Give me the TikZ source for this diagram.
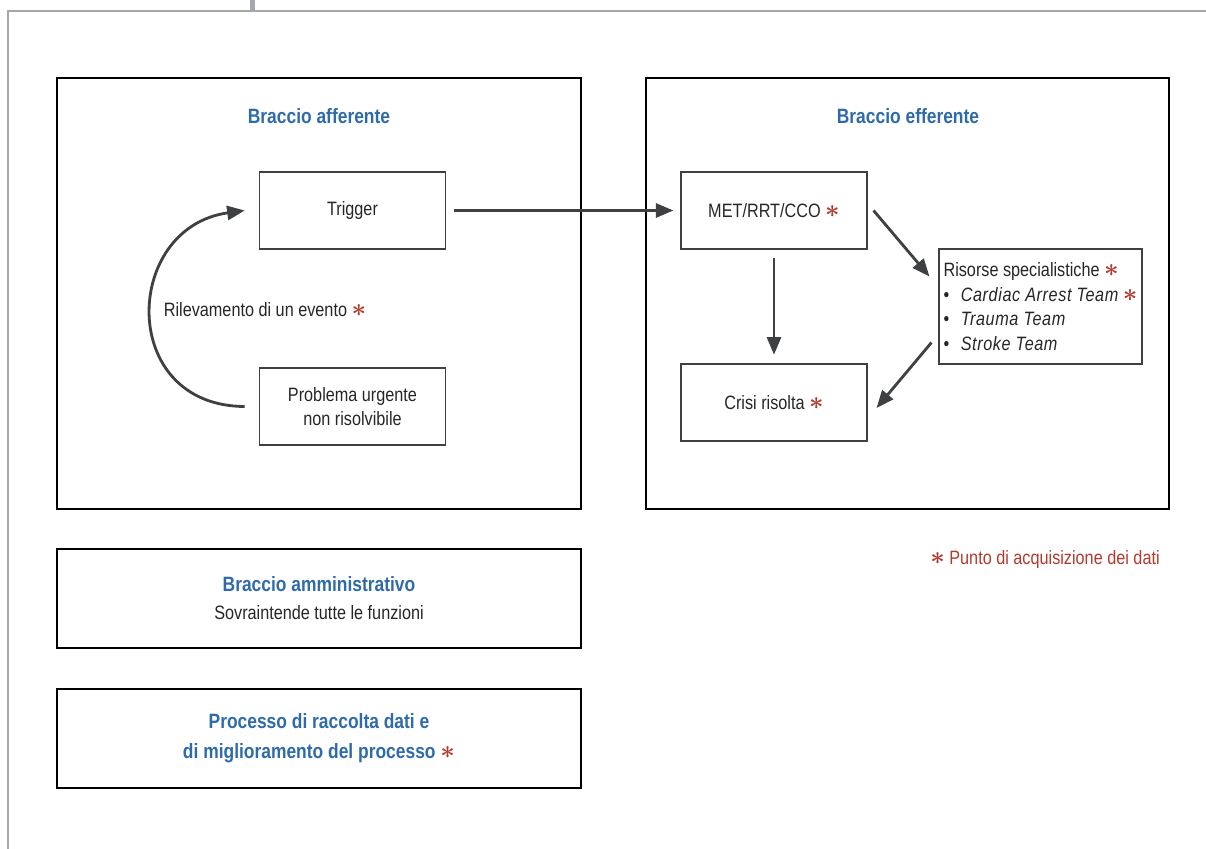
\documentclass[tikz,border=0pt]{standalone}
\usepackage{fontspec}
\setmainfont{Liberation Sans}[FakeStretch=0.84]
\usetikzlibrary{arrows.meta}
\definecolor{titleColor}{RGB}{47,107,170}
\definecolor{starColor}{RGB}{176,58,46}
\definecolor{frameColor}{RGB}{164,167,174}
\definecolor{arrowColor}{RGB}{62,64,68}
\tikzstyle{armBox} = [draw=black, line width=1.1pt, minimum width=10.48cm, inner sep=0pt]
\tikzstyle{stepBox} = [draw=black!75, line width=0.6pt, minimum width=3.73cm, minimum height=1.54cm, align=center, text=black!85, font=\fontsize{11}{14}\selectfont]
\tikzstyle{armTitle} = [font=\fontsize{11.8}{14}\selectfont\bfseries, text=titleColor]
\tikzstyle{flowArrow} = [draw=arrowColor, line width=1.6pt, -{Triangle[length=10pt,width=8pt]}]
\newcommand{\redStar}{\textcolor{starColor}{\fontsize{14}{14}\selectfont\boldmath$\ast$}}
\newcommand{\teamItem}[1]{\textbullet\hspace{0.6em}{\itshape\addfontfeature{LetterSpace=3}#1}}
\begin{document}
\begin{tikzpicture}
  \useasboundingbox (0,0) rectangle (24.12,-16.98);
  % cornice
  \draw[frameColor, line width=1.7pt] (0.16,-16.98) -- (0.16,-0.22) -- (24.12,-0.22);
  \draw[frameColor, line width=2.4pt] (5.05,0) -- (5.05,-0.22);

  % bracci
  \node[armBox, minimum height=8.62cm] (afferente) at (6.38,-5.87) {};
  \node[armTitle] (titoloAff) at (6.38,-2.32) {Braccio afferente};
  \node[armBox, minimum width=10.46cm, minimum height=8.62cm] (efferente) at (18.15,-5.87) {};
  \node[armTitle] (titoloEff) at (18.16,-2.32) {Braccio efferente};

  % braccio afferente
  \node[stepBox] (trigger) at (7.05,-4.21) {Trigger};
  \node[stepBox] (problema) at (7.05,-8.13) {Problema urgente\\non risolvibile};
  \node[text=black!85, font=\fontsize{11}{14}\selectfont] (rilevamento) at (5.30,-6.20) {Rilevamento di un evento \redStar};
  \draw[flowArrow] ([xshift=-0.28cm]problema.west) .. controls (2.35,-8.12) and (2.45,-4.55) .. ([xshift=-0.28cm]trigger.west);

  % braccio efferente
  \node[stepBox, minimum width=3.72cm] (met) at (15.48,-4.21) {MET/RRT/CCO \redStar};
  \node[stepBox, minimum width=3.72cm] (crisi) at (15.48,-8.05) {Crisi risolta \redStar};
  \node[stepBox, minimum width=4.06cm, minimum height=2.30cm, inner xsep=2pt, align=left] (risorse) at (20.81,-6.13)
    {Risorse specialistiche \redStar\\
     \teamItem{Cardiac Arrest Team} \redStar\\
     \teamItem{Trauma Team}\\
     \teamItem{Stroke Team}};

  \draw[flowArrow, shorten <=4.5pt, shorten >=4pt] (trigger) -- (met);
  \draw[flowArrow, shorten <=5pt, shorten >=5pt] (met) -- (crisi);
  \draw[flowArrow] ([xshift=0.12cm]met.east) -- ([xshift=-0.18cm,yshift=-0.56cm]risorse.north west);
  \draw[flowArrow] ([xshift=-0.14cm,yshift=0.44cm]risorse.south west) -- ([xshift=0.18cm,yshift=-0.11cm]crisi.east);

  % riquadri inferiori
  \node[armBox, minimum height=1.98cm, align=center, text=black!85, font=\fontsize{11}{14}\selectfont] (amministrativo) at (6.38,-11.97)
    {{\fontsize{11.8}{14}\selectfont\bfseries\color{titleColor}Braccio amministrativo}\\[2pt]Sovraintende tutte le funzioni};
  \node[armBox, minimum height=1.98cm, align=center, text=titleColor, font=\fontsize{11.8}{14}\selectfont\bfseries] (processo) at (6.38,-14.77)
    {Processo di raccolta dati e\\[3pt]di miglioramento del processo \redStar};

  % legenda
  \node[text=starColor, font=\fontsize{11}{14}\selectfont] (legenda) at (20.9,-11.2) {\redStar\ Punto di acquisizione dei dati};
\end{tikzpicture}
\end{document}
